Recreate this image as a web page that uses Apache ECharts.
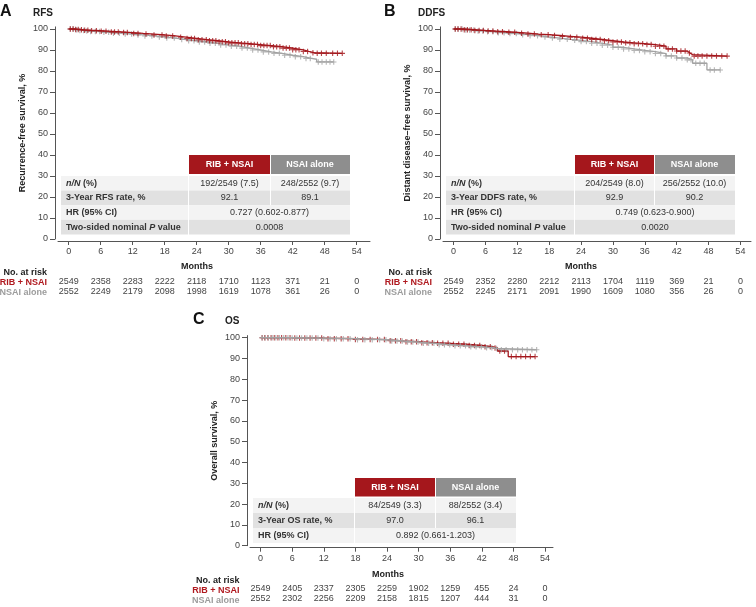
<!DOCTYPE html>
<html><head><meta charset="utf-8">
<script src="https://cdn.jsdelivr.net/npm/echarts@6/dist/echarts.min.js"></script>
<style>html,body{margin:0;padding:0;background:#fff}#c{width:756px;height:607px}</style>
</head><body><div id="c"></div>
<script>
// ---------------- DATA ----------------
const monthTicks = [0, 6, 12, 18, 24, 30, 36, 42, 48, 54];
const survTicks = [0, 10, 20, 30, 40, 50, 60, 70, 80, 90, 100];

// Kaplan-Meier step points [month, survival %]
const rfsRib = [[0,100],[1,99.8],[2,99.6],[3,99.4],[4,99.2],[6,98.9],[8,98.6],[10,98.3],[12,97.9],[14,97.6],[16,97.2],[18,96.7],[20,96.1],[22,95.5],[24,94.9],[26,94.4],[28,93.9],[30,93.4],[32,93.0],[34,92.6],[36,92.1],[38,91.6],[40,90.9],[42,90.1],[44,89.3],[45,88.7],[46,88.4],[51.3,88.4]];
const rfsNsai = [[0,100],[1,99.6],[2,99.3],[3,99.0],[4,98.8],[6,98.4],[8,98.0],[10,97.6],[12,97.2],[14,96.7],[16,96.2],[18,95.7],[20,95.0],[22,94.4],[24,93.8],[26,93.2],[28,92.4],[30,91.8],[32,90.9],[34,90.0],[36,89.1],[38,88.4],[40,87.5],[42,86.8],[44,86.0],[45.5,85.6],[46.5,84.3],[49.7,84.3]];
const ddfsRib = [[0,100],[2,99.7],[4,99.3],[6,99.0],[8,98.7],[10,98.4],[12,98.0],[14,97.6],[16,97.3],[18,96.9],[20,96.5],[22,96.1],[24,95.6],[26,95.0],[28,94.4],[30,93.8],[32,93.4],[34,93.0],[36,92.6],[38,91.8],[40,90.5],[42,89.5],[44,88.6],[44.5,87.8],[45,87.1],[51.5,87.1]];
const ddfsNsai = [[0,100],[2,99.5],[4,99.1],[6,98.7],[8,98.2],[10,97.8],[12,97.3],[14,96.8],[16,96.2],[18,95.7],[20,95.1],[22,94.6],[24,94.0],[26,93.2],[28,92.3],[30,91.3],[32,90.5],[34,89.8],[36,89.2],[38,88.3],[40,87.2],[42,86.2],[44,85.3],[45,83.7],[47.7,80.5],[50.2,80.5]];
const osRib = [[0,100],[6,99.8],[12,99.5],[18,99.1],[24,98.5],[27,98.1],[30,97.6],[33,97.3],[36,96.9],[39,96.3],[42,95.7],[44,95.0],[45,93.6],[47,90.9],[52.1,90.9]];
const osNsai = [[0,100],[6,99.8],[12,99.5],[18,99.0],[24,98.4],[27,97.9],[30,97.3],[33,96.6],[36,96.1],[39,95.6],[42,95.2],[44,94.8],[45,94.2],[52.4,94.2]];

// censoring times (months)
const rfsRibCens = [0.3,0.8,1.3,1.8,2.4,3,3.6,4.3,5.2,6.1,7,8,8.6,9.3,10.3,11,12.2,13,14.5,16,17.5,18.3,19.5,21,22.2,23,23.6,24.3,25,25.8,26.4,27,27.6,28.2,28.8,29.4,30,30.6,31.2,31.8,32.4,33,33.6,34.2,34.8,35.4,36,36.6,37.2,37.8,38.4,39,39.6,40.2,40.8,41.4,42,42.6,43.2,44,44.8,45.8,46.6,47.4,48.3,49.5,50.4,51.3];
const rfsNsaiCens = [0.3,0.9,1.5,2.1,2.8,3.4,4.1,5,5.8,6.6,7.5,8.4,9.5,10.6,11.8,13,14.3,15.6,17,18.4,19.8,21.2,22.5,23.5,24.5,25.5,26.5,27.5,28.5,29.5,30.5,31.5,32.5,33.5,34.5,35.5,36.5,37.5,38.5,39.5,40.5,41.5,42.5,43.5,44.5,45.3,46.8,47.5,48.3,49,49.7];
const ddfsRibCens = [0.3,0.8,1.4,2,2.6,3.3,4,4.8,5.6,6.5,7.4,8.3,9.2,10.4,11.5,12.8,14,15.2,16.5,17.8,19,20.5,22,23.2,24.3,25.2,26,26.8,27.6,28.4,29.2,30,30.8,31.6,32.4,33.2,34,34.8,35.6,36.4,37.2,38,38.8,39.6,40.4,41.2,42,42.8,43.6,44.4,45.3,46,46.8,47.7,48.6,49.5,50.5,51.5];
const ddfsNsaiCens = [0.3,0.9,1.6,2.3,3,3.8,4.6,5.5,6.4,7.4,8.4,9.5,10.6,11.8,13,14.4,15.8,17.2,18.6,20,21.4,22.8,24,25,26,27,28,29,30,31,32,33,34,35,36,37,38,39,40,41,42,43,44,44.7,45.6,46.4,47.2,48.3,49.1,50.2];
const osRibCens = [0.3,0.8,1.4,2,2.6,3.3,4,4.8,5.6,6.5,7.4,8.4,9.4,10.5,11.6,12.8,14,15.3,16.6,18,19.4,20.8,22.2,23.5,24.6,25.6,26.6,27.6,28.6,29.6,30.6,31.6,32.6,33.6,34.6,35.6,36.6,37.6,38.6,39.6,40.6,41.6,42.6,43.6,44.5,45.4,46.3,47.6,48.5,49.4,50.3,51.2,52.1];
const osNsaiCens = [0.3,0.9,1.5,2.2,2.9,3.6,4.4,5.2,6,6.9,7.8,8.8,9.8,10.9,12,13.2,14.4,15.7,17,18.4,19.8,21.2,22.6,23.8,24.9,25.9,26.9,27.9,28.9,29.9,30.9,31.9,32.9,33.9,34.9,35.9,36.9,37.9,38.9,39.9,40.9,41.9,42.9,43.9,44.8,45.7,46.6,47.8,48.8,49.7,50.6,51.5,52.4];

// numbers at risk
const rfsRiskRib = [2549,2358,2283,2222,2118,1710,1123,371,21,0];
const rfsRiskNsai = [2552,2249,2179,2098,1998,1619,1078,361,26,0];
const ddfsRiskRib = [2549,2352,2280,2212,2113,1704,1119,369,21,0];
const ddfsRiskNsai = [2552,2245,2171,2091,1990,1609,1080,356,26,0];
const osRiskRib = [2549,2405,2337,2305,2259,1902,1259,455,24,0];
const osRiskNsai = [2552,2302,2256,2209,2158,1815,1207,444,31,0];

// summary tables
const armNames = ['RIB + NSAI', 'NSAI alone'];
const rfsRowLabels = ['{i|n/N} (%)', '3-Year RFS rate, %', 'HR (95% CI)', 'Two-sided nominal {i|P} value'];
const rfsRibVals = ['192/2549 (7.5)', '92.1'];
const rfsNsaiVals = ['248/2552 (9.7)', '89.1'];
const rfsMergedVals = ['0.727 (0.602-0.877)', '0.0008'];
const ddfsRowLabels = ['{i|n/N} (%)', '3-Year DDFS rate, %', 'HR (95% CI)', 'Two-sided nominal {i|P} value'];
const ddfsRibVals = ['204/2549 (8.0)', '92.9'];
const ddfsNsaiVals = ['256/2552 (10.0)', '90.2'];
const ddfsMergedVals = ['0.749 (0.623-0.900)', '0.0020'];
const osRowLabels = ['{i|n/N} (%)', '3-Year OS rate, %', 'HR (95% CI)'];
const osRibVals = ['84/2549 (3.3)', '97.0'];
const osNsaiVals = ['88/2552 (3.4)', '96.1'];
const osMergedVals = ['0.892 (0.661-1.203)'];

// ---------------- STYLE / LAYOUT ----------------
const FONT = '"Liberation Sans", Arial, Helvetica, sans-serif';
const RED = '#a3161c', GRAY = '#a3a3a3', RED_TXT = '#b0191f', GRAY_TXT = '#9c9c9c';
const HDR_RED = '#a5171c', HDR_GRAY = '#8e8e8e', ROW_L = '#f3f3f3', ROW_D = '#e1e1e1';
const TXT = '#333';

const panels = [
  { grid: {left: 58, top: 26.9, width: 312, height: 212.1}, xMax: 56.5,
    yName: 'Recurrence-free survival, %', rib: rfsRib, nsai: rfsNsai, ribC: rfsRibCens, nsaiC: rfsNsaiCens,
    riskRib: rfsRiskRib, riskNsai: rfsRiskNsai, grayOnTop: false },
  { grid: {left: 443, top: 26.9, width: 308, height: 212.1}, xMax: 56,
    yName: 'Distant disease\u2013free survival, %', rib: ddfsRib, nsai: ddfsNsai, ribC: ddfsRibCens, nsaiC: ddfsNsaiCens,
    riskRib: ddfsRiskRib, riskNsai: ddfsRiskNsai, grayOnTop: false },
  { grid: {left: 250, top: 335.6, width: 303, height: 210.1}, xMax: 55.5,
    yName: 'Overall survival, %', rib: osRib, nsai: osNsai, ribC: osRibCens, nsaiC: osNsaiCens,
    riskRib: osRiskRib, riskNsai: osRiskNsai, grayOnTop: true }
];

function stepAt(curve, t) {
  let v = curve[0][1];
  for (const p of curve) { if (p[0] <= t) v = p[1]; else break; }
  return v;
}
const plusPath = 'path://M4,0H6V4H10V6H6V10H4V6H0V4H4Z';

const grids = [], xAxes = [], yAxes = [], series = [];
panels.forEach((p, i) => {
  grids.push(Object.assign({containLabel: false}, p.grid));
  xAxes[i] = {
    type: 'value', gridIndex: i, min: -2, max: p.xMax, offset: 2,
    axisLine: {show: true, onZero: false, lineStyle: {color: '#555', width: 1}},
    axisTick: {show: true, length: 4, customValues: monthTicks, lineStyle: {color: '#555'}},
    axisLabel: {customValues: monthTicks, margin: 6, fontSize: 9, color: '#444', fontFamily: FONT},
    splitLine: {show: false}
  };
  yAxes.push({
    type: 'value', gridIndex: i, min: 0, max: 101, offset: 3,
    name: p.yName, nameLocation: 'middle', nameGap: 28,
    nameTextStyle: {fontSize: 9, fontWeight: 'bold', color: '#222', fontFamily: FONT},
    axisLine: {show: true, onZero: false, lineStyle: {color: '#555', width: 1}},
    axisTick: {show: true, length: 5, customValues: survTicks, lineStyle: {color: '#555'}},
    axisLabel: {customValues: survTicks, margin: 7, fontSize: 9, color: '#444', fontFamily: FONT},
    splitLine: {show: false}
  });
});
// at-risk rows as extra label-only axes
panels.forEach((p, i) => {
  [[p.riskRib, 38], [p.riskNsai, 48]].forEach(([arr, off]) => {
    xAxes.push({
      type: 'value', gridIndex: i, min: -2, max: p.xMax, position: 'bottom', offset: off,
      axisLine: {show: false, onZero: false}, axisTick: {show: false}, splitLine: {show: false},
      axisLabel: {customValues: monthTicks, margin: 0, fontSize: 9, color: '#444', fontFamily: FONT,
        formatter: v => String(arr[monthTicks.indexOf(v)])}
    });
  });
});

panels.forEach((p, i) => {
  const mk = (curve, cens, color, z) => [
    {type: 'line', xAxisIndex: i, yAxisIndex: i, data: curve, step: 'end', showSymbol: false, symbol: 'none',
     lineStyle: {color: color, width: 1.3}, z: z, silent: true, animation: false},
    {type: 'scatter', xAxisIndex: i, yAxisIndex: i, data: cens.map(t => [t, stepAt(curve, t)]),
     symbol: plusPath, symbolSize: 5.5, itemStyle: {color: color}, z: z, silent: true, animation: false}
  ];
  const r = mk(p.rib, p.ribC, RED, p.grayOnTop ? 2 : 3);
  const g = mk(p.nsai, p.nsaiC, GRAY, p.grayOnTop ? 3 : 2);
  if (p.grayOnTop) series.push(...r, ...g); else series.push(...g, ...r);
});

// ---------------- GRAPHICS (text, tables) ----------------
const G = [];
function txt(x, y, text, o) {
  G.push({type: 'text', x: x, y: y, silent: true, z: 10, style: Object.assign({
    text: text, fontSize: 9, fontFamily: FONT, fill: TXT, align: 'left', verticalAlign: 'middle'}, o || {})});
}
function rect(x, y, w, h, fill) {
  G.push({type: 'rect', silent: true, z: 5, shape: {x: x, y: y, width: w, height: h}, style: {fill: fill}});
}
const richI = {i: {fontStyle: 'italic', fontWeight: 'bold', fontSize: 9, fontFamily: FONT, fill: TXT}};
function table(L, labels, ribVals, nsaiVals, merged) {
  const [c0, c1, c2, c3] = L.cols;
  rect(c1, L.hTop, c2 - c1, L.hBot - L.hTop, HDR_RED);
  rect(c2 + 1, L.hTop, c3 - c2 - 1, L.hBot - L.hTop, HDR_GRAY);
  const hy = (L.hTop + L.hBot) / 2;
  txt((c1 + c2) / 2, hy, armNames[0], {fill: '#fff', fontWeight: 'bold', align: 'center'});
  txt((c2 + c3) / 2, hy, armNames[1], {fill: '#fff', fontWeight: 'bold', align: 'center'});
  labels.forEach((lab, r) => {
    const y = L.rTop + r * L.rH, fill = r % 2 ? ROW_D : ROW_L;
    const cy = y + L.rH / 2;
    rect(c0, y, c1 - c0 - 1, L.rH, fill);
    txt(c0 + 5, cy, lab, {fontWeight: 'bold', rich: richI});
    if (r < ribVals.length) {
      rect(c1, y, c2 - c1, L.rH, fill);
      rect(c2 + 1, y, c3 - c2 - 1, L.rH, fill);
      txt((c1 + c2) / 2, cy, ribVals[r], {align: 'center'});
      txt((c2 + c3) / 2, cy, nsaiVals[r], {align: 'center'});
    } else {
      rect(c1, y, c3 - c1, L.rH, fill);
      txt((c1 + c3) / 2, cy, merged[r - ribVals.length], {align: 'center'});
    }
  });
}
table({cols: [61, 189, 270, 350], hTop: 155, hBot: 174, rTop: 176, rH: 14.6}, rfsRowLabels, rfsRibVals, rfsNsaiVals, rfsMergedVals);
table({cols: [446, 575, 654, 735], hTop: 155, hBot: 174, rTop: 176, rH: 14.6}, ddfsRowLabels, ddfsRibVals, ddfsNsaiVals, ddfsMergedVals);
table({cols: [253, 355, 435, 516], hTop: 478, hBot: 496.5, rTop: 498, rH: 15}, osRowLabels, osRibVals, osNsaiVals, osMergedVals);

// panel letters & titles
txt(0, 12, 'A', {fontSize: 16, fontWeight: 'bold', fill: '#111'});
txt(33, 13, 'RFS', {fontSize: 10, fontWeight: 'bold', fill: '#222'});
txt(384, 12, 'B', {fontSize: 16, fontWeight: 'bold', fill: '#111'});
txt(418, 13, 'DDFS', {fontSize: 10, fontWeight: 'bold', fill: '#222'});
txt(193, 320, 'C', {fontSize: 16, fontWeight: 'bold', fill: '#111'});
txt(225, 321, 'OS', {fontSize: 10, fontWeight: 'bold', fill: '#222'});
// axis titles
txt(197, 267, 'Months', {fontWeight: 'bold', align: 'center', fill: '#222'});
txt(581, 267, 'Months', {fontWeight: 'bold', align: 'center', fill: '#222'});
txt(388, 575, 'Months', {fontWeight: 'bold', align: 'center', fill: '#222'});
// at-risk row labels
[[47, 273, 283, 293], [432, 273, 283, 293], [239.5, 580.7, 591, 600.7]].forEach(([x, y0, y1, y2]) => {
  txt(x, y0, 'No. at risk', {align: 'right', fontWeight: 'bold', fill: '#222'});
  txt(x, y1, armNames[0], {align: 'right', fontWeight: 'bold', fill: RED_TXT});
  txt(x, y2, armNames[1], {align: 'right', fontWeight: 'bold', fill: GRAY_TXT});
});

const chart = echarts.init(document.getElementById('c'), null, {renderer: 'canvas'});
chart.setOption({
  animation: false,
  backgroundColor: '#fff',
  textStyle: {fontFamily: FONT},
  grid: grids, xAxis: xAxes, yAxis: yAxes, series: series, graphic: G
});
</script></body></html>
